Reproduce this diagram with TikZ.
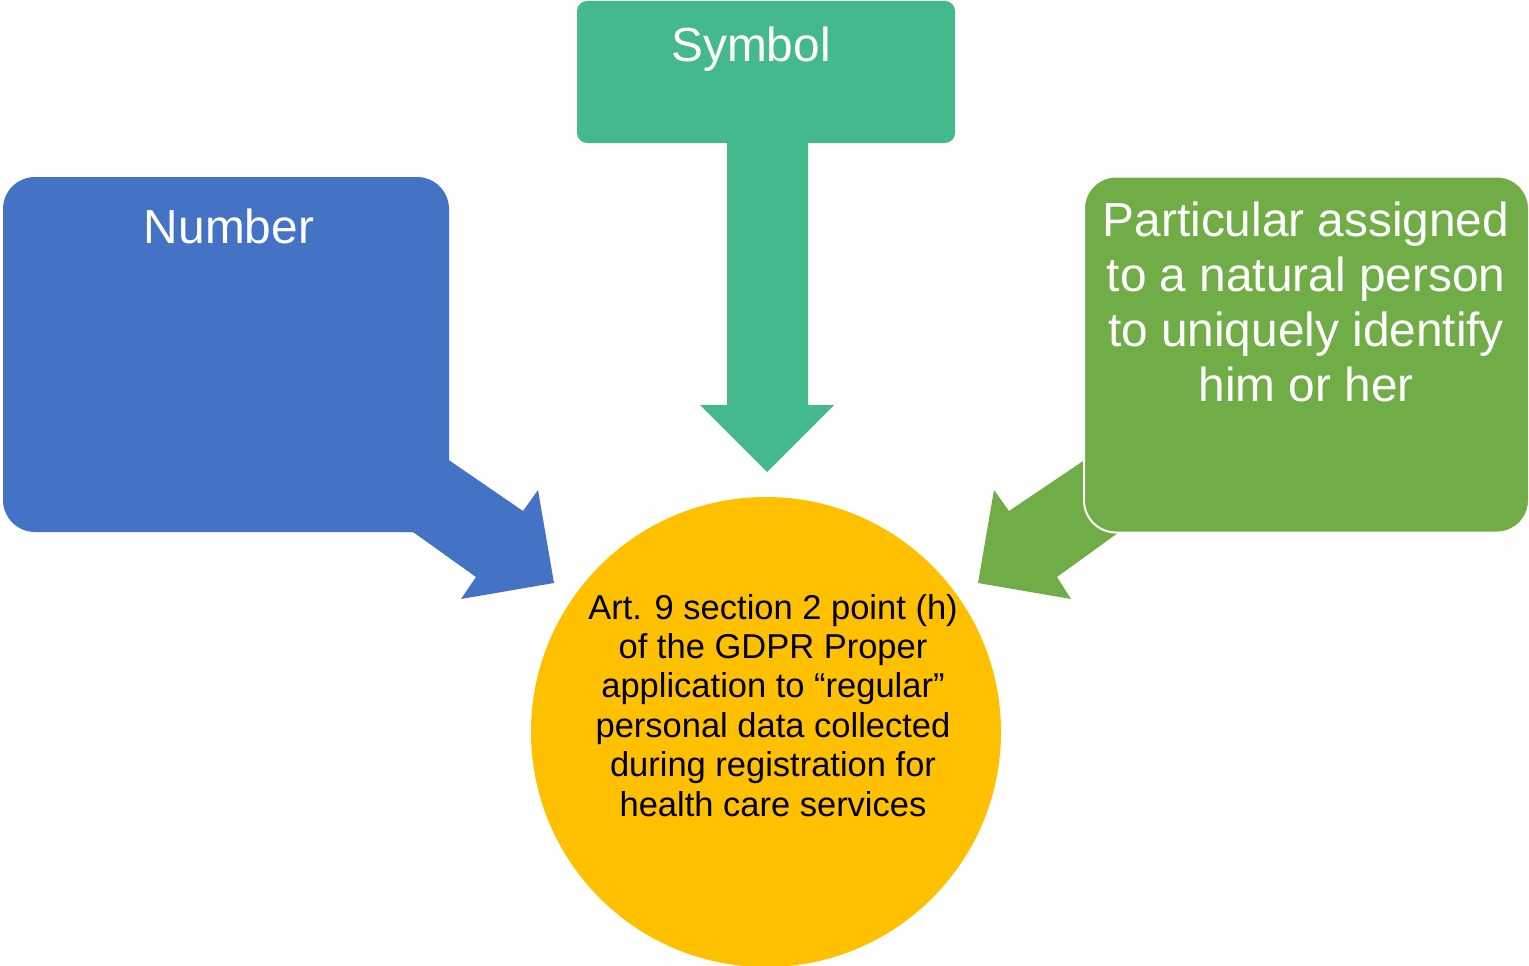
\documentclass[tikz,border=0pt]{standalone}
\usepackage{fontspec}
\setmainfont{Liberation Sans}
\definecolor{boxblue}{HTML}{4472C4}
\definecolor{boxteal}{HTML}{44BA8C}
\definecolor{boxgreen}{HTML}{70AD47}
\definecolor{hubyellow}{HTML}{FFC000}
\begin{document}
\begin{tikzpicture}[x=1pt,y=-1pt,
  panel/.style={rectangle, inner sep=0pt, draw=none},
  bigtext/.style={text=white, font=\fontsize{47.8}{55}\selectfont, align=center, anchor=base, inner sep=0pt},
  hubtext/.style={text=black, font=\fontsize{34.5}{39.4}\selectfont, align=center, anchor=base, inner sep=0pt}]
\useasboundingbox (0,0) rectangle (1529,966);

% central circle
\node[circle, fill=hubyellow, minimum size=470pt, inner sep=0pt] (hub) at (766,732) {};

% top panel with downward block arrow
\fill[boxteal] (727,130) -- (808,130) -- (808,405) -- (834,405) -- (767,472)
  -- (700,405) -- (727,405) -- cycle;
\node[panel, fill=boxteal, rounded corners=10pt, minimum width=378pt, minimum height=142pt] (sym) at (766,72) {};
\node[bigtext] (symtxt) at (751,62) {Symbol};

% left panel with block arrow towards the circle
\fill[boxblue] (440,454) -- (523,511) -- (538,490) -- (554,583) -- (461,599)
  -- (476,577) -- (413,532) -- (400,532) -- cycle;
\node[panel, fill=boxblue, rounded corners=32pt, minimum width=446pt, minimum height=355pt] (num) at (226,354.5) {};
\node[bigtext] (numtxt) at (229,243) {Number};

% right panel with block arrow towards the circle
\fill[boxgreen] (1092,455) -- (1009,511) -- (994,490) -- (978,583) -- (1071,599)
  -- (1057,577) -- (1122,530) -- cycle;
\node[panel, fill=boxgreen, draw=white, line width=2pt, rounded corners=32pt, minimum width=445pt, minimum height=356pt] (part) at (1306.5,354.5) {};
% multi-line labels are anchored at the baseline of their last line
\node[bigtext] (parttxt) at (1306,401) {Particular assigned\\to a natural person\\to uniquely identify\\him or her};

% circle text
\node[hubtext] (hubtxt) at (773,816) {Art. 9 section 2 point (h)\\of the GDPR Proper\\application to “regular”\\personal data collected\\during registration for\\health care services};
\end{tikzpicture}
\end{document}
